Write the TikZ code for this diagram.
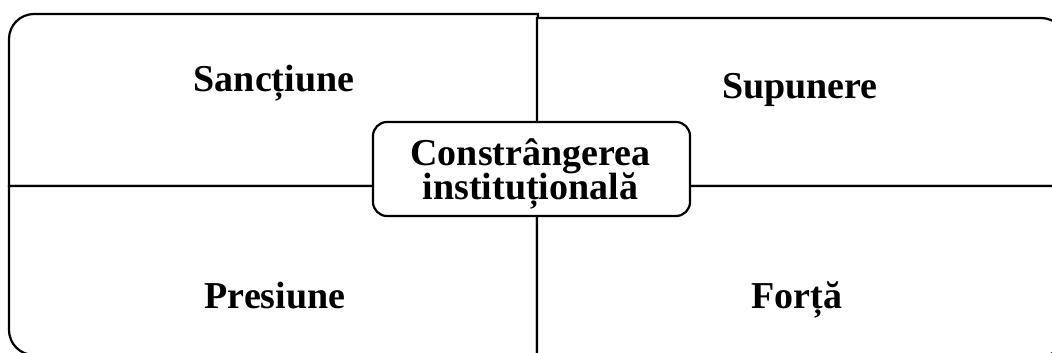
\documentclass[tikz,border=0pt]{standalone}
\usepackage{fontspec}
\setmainfont{Liberation Serif}
\begin{document}
\begin{tikzpicture}[x=1pt,y=-1pt,
  quad/.style={draw=black,line width=2.2pt,fill=white},
  lab/.style={font=\fontsize{38}{32}\selectfont\bfseries,anchor=base,inner sep=0pt},
  centerbox/.style={draw=black,line width=2.2pt,fill=white,rounded corners=14pt,
    minimum width=317pt,minimum height=94pt,inner sep=0pt}]
\useasboundingbox (0,0) rectangle (1052,353);
\clip (0,0) rectangle (1052,353);
% quadrants (corner rounded by the option of the segment arriving at it)
\draw[quad] (538,186) -- (9,186) [rounded corners=25pt] -- (9,14) [sharp corners] -- (538,14) -- cycle;
\draw[quad] (537,186) -- (537,18) [rounded corners=25pt] -- (1066,18) [sharp corners] -- (1066,186) -- cycle;
\draw[quad] (537,186) -- (9,186) [rounded corners=25pt] -- (9,355) [sharp corners] -- (537,355) -- cycle;
\draw[quad] (537,186) -- (1066,186) [rounded corners=25pt] -- (1066,356) [sharp corners] -- (537,356) -- cycle;
% labels
\node[lab] (sanctiune) at (274,92) {Sancțiune};
\node[lab] (supunere) at (800,98) {Supunere};
\node[lab] (presiune) at (275,308) {Presiune};
\node[lab] (forta) at (797,308) {Forță};
% center
\node[centerbox] (centru) at (531.5,169) {};
\node[lab] (centrutext) at (530.5,165.5) {\vtop{\baselineskip=34pt\lineskiplimit=-100pt\lineskip=0pt
  \halign{\hfil#\hfil\cr Constrângerea\cr instituțională\cr}}};
\end{tikzpicture}
\end{document}
